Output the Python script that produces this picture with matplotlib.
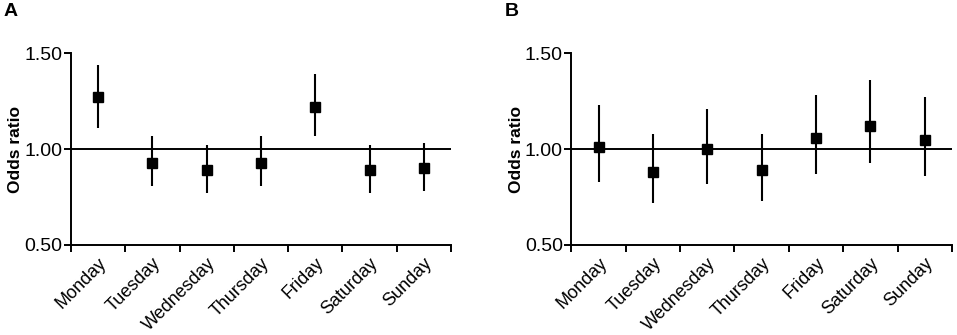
import numpy as np
import matplotlib
matplotlib.use("Agg")
import matplotlib.pyplot as plt

plt.rcParams['font.family'] = ['Liberation Sans', 'DejaVu Sans']

days = ["Monday", "Tuesday", "Wednesday", "Thursday", "Friday", "Saturday", "Sunday"]

# Panel A: odds ratio with 95% CI
or_a = [1.27, 0.93, 0.89, 0.93, 1.22, 0.89, 0.90]
lo_a = [1.11, 0.81, 0.77, 0.81, 1.07, 0.77, 0.78]
hi_a = [1.44, 1.07, 1.02, 1.07, 1.39, 1.02, 1.03]

# Panel B
or_b = [1.01, 0.88, 1.00, 0.89, 1.06, 1.12, 1.05]
lo_b = [0.83, 0.72, 0.82, 0.73, 0.87, 0.93, 0.86]
hi_b = [1.23, 1.08, 1.21, 1.08, 1.28, 1.36, 1.27]

yticks = [0.50, 1.00, 1.50]

fig = plt.figure(figsize=(9.57, 3.35), dpi=100)
axA = fig.add_axes([0.0742, 0.2687, 0.3971, 0.5722])
axB = fig.add_axes([0.5970, 0.2687, 0.3978, 0.5722])


def draw(ax, vals, lo, hi, letter, letter_x):
    x = np.arange(len(days)) + 0.5
    vals = np.array(vals)
    err = [vals - np.array(lo), np.array(hi) - vals]
    ax.axhline(1.0, color="black", lw=1.4, zorder=1)
    ax.errorbar(x, vals, yerr=err, fmt="s", color="black", ms=7.5,
                elinewidth=1.5, capsize=0, zorder=3)
    ax.set_xlim(0, len(days))
    ax.set_ylim(0.5, 1.5)
    ax.set_yticks(yticks)
    ax.set_yticklabels(["%.2f" % v for v in yticks], fontsize=14)
    ax.set_xticks(np.arange(len(days) + 1))
    ax.set_xticklabels([])
    ax.set_xticks(x, minor=True)
    ax.set_xticklabels(days, minor=True, rotation=45, ha="right",
                       rotation_mode="anchor", fontsize=13)
    ax.tick_params(axis="x", which="minor", length=0, pad=7)
    ax.tick_params(axis="both", which="major", length=5, width=1.4, direction="out")
    ax.tick_params(axis="y", pad=1)
    for s in ["top", "right"]:
        ax.spines[s].set_visible(False)
    for s in ["left", "bottom"]:
        ax.spines[s].set_linewidth(1.4)
    ax.set_ylabel("Odds ratio", fontsize=12.5, fontweight="bold", labelpad=1)
    fig.text(letter_x, 0.965, letter, fontsize=14, fontweight="bold", va="center")


draw(axA, or_a, lo_a, hi_a, "A", 0.004)
draw(axB, or_b, lo_b, hi_b, "B", 0.527)

fig.savefig("out.png", dpi=100)
